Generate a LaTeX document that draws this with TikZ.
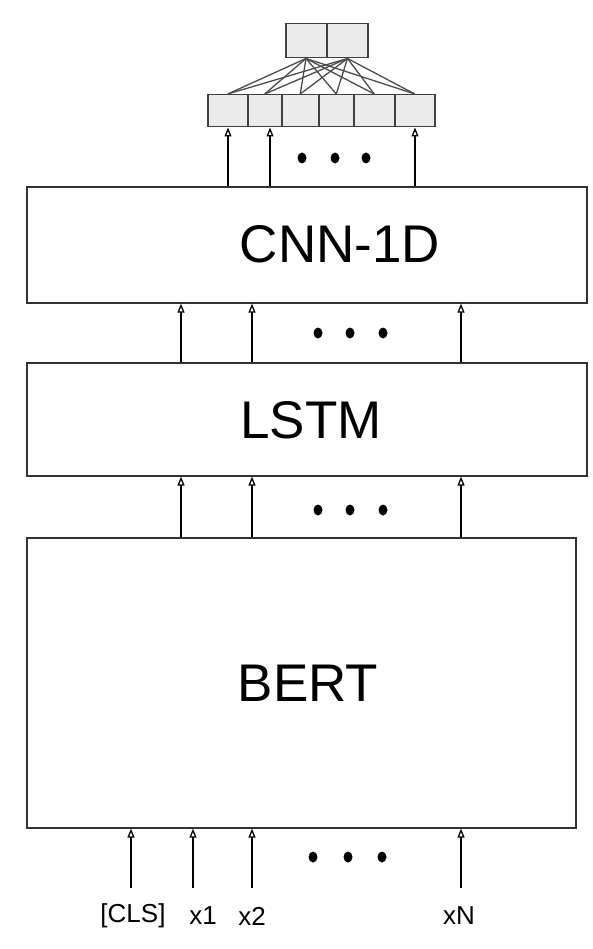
\documentclass[tikz,border=0pt]{standalone}
\usepackage{fontspec}
\setmainfont{Liberation Sans}
\usetikzlibrary{arrows.meta,shapes.geometric}
\begin{document}
\begin{tikzpicture}[x=1pt,y=-1pt,
  blk/.style={draw=black!80, line width=1.6pt, fill=white, rectangle, inner sep=0pt, anchor=north west},
  cell/.style={draw=black!75, line width=1.5pt, fill=black!8, rectangle, inner sep=0pt, anchor=north west, minimum height=32pt},
  tcell/.style={draw=black!75, line width=1.5pt, fill=black!8, rectangle, inner sep=0pt, anchor=north west, minimum height=34pt, minimum width=40.5pt},
  arr/.style={line width=1.7pt, black, -{Triangle[open, length=9pt, width=7pt, line width=1.3pt]}},
  conn/.style={line width=1.3pt, black!70},
  big/.style={font=\fontsize{53}{53}\selectfont},
  lab/.style={font=\fontsize{26}{26}\selectfont},
  dot/.style={fill=black, draw=none, ellipse, inner sep=0pt, minimum width=9pt, minimum height=11pt}
]
\useasboundingbox (0,0) rectangle (592,949);

% main blocks
\node[blk, minimum width=560pt, minimum height=116pt] (cnn) at (26,186) {};
\node[blk, minimum width=560pt, minimum height=113pt] (lstm) at (26,362) {};
\node[blk, minimum width=549pt, minimum height=290pt] (bert) at (26,537) {};
\node[big] (tcnn) at (340,244) {CNN-1D};
\node[big] (tlstm) at (311,420) {LSTM};
\node[big] (tbert) at (308,683) {BERT};

% small cells
\node[cell, minimum width=40pt] (s1) at (207,94) {};
\node[cell, minimum width=34pt] (s2) at (247,94) {};
\node[cell, minimum width=37pt] (s3) at (281,94) {};
\node[cell, minimum width=35pt] (s4) at (318,94) {};
\node[cell, minimum width=41pt] (s5) at (353,94) {};
\node[cell, minimum width=40pt] (s6) at (394,94) {};
\node[tcell] (t1) at (285,23) {};
\node[tcell] (t2) at (326.5,23) {};

\foreach \s in {s1,s2,s3,s4,s5,s6}{
  \draw[conn] (t1.south) -- (\s.north);
  \draw[conn] (t2.south) -- (\s.north);
}

% arrows CNN -> cells
\foreach \x in {228,270,415}
  \draw[arr] (cnn.north -| \x,0) -- (s1.south -| \x,0);
% arrows LSTM -> CNN
\foreach \x in {181,252,461}
  \draw[arr] (lstm.north -| \x,0) -- (cnn.south -| \x,0);
% arrows BERT -> LSTM
\foreach \x in {181,252,461}
  \draw[arr] (bert.north -| \x,0) -- (lstm.south -| \x,0);

% inputs
\coordinate (i1) at (131,888);
\coordinate (i2) at (193,888);
\coordinate (i3) at (252,888);
\coordinate (i4) at (461,888);
\foreach \i in {i1,i2,i3,i4}
  \draw[arr] (\i) -- (bert.south -| \i);
\node[lab] (l1) at (133,916) {[CLS]};
\node[lab] (l2) at (203,916) {x1};
\node[lab] (l3) at (252,916) {x2};
\node[lab] (l4) at (459,916) {xN};

% dots
\foreach \x in {302,335,366} \node[dot] at (\x,158) {};
\foreach \x in {318,350,383} \node[dot] at (\x,333) {};
\foreach \x in {318,350,383} \node[dot] at (\x,510) {};
\foreach \x in {313,348,382} \node[dot] at (\x,857) {};
\end{tikzpicture}
\end{document}
